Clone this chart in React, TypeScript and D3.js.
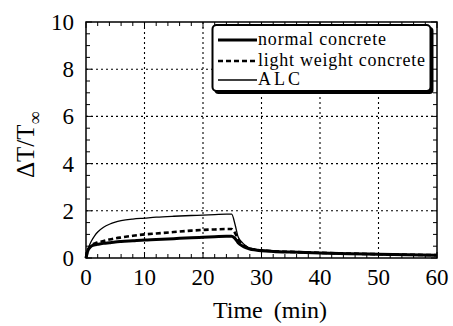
import React, { useEffect, useRef } from "react";
import * as d3 from "d3";

const times = [0, 0.3, 0.7, 1, 1.5, 2, 3, 4, 5, 6, 8, 10, 12, 15, 18, 20, 22, 24, 24.9, 25.5, 26, 26.8, 27.3, 28, 29, 30, 32, 35, 40, 45, 50, 55, 60];
const normalConcrete = [0, 0.3, 0.45, 0.52, 0.56, 0.58, 0.62, 0.65, 0.68, 0.7, 0.73, 0.76, 0.78, 0.82, 0.86, 0.88, 0.9, 0.92, 0.92, 0.82, 0.65, 0.5, 0.44, 0.38, 0.34, 0.31, 0.28, 0.25, 0.21, 0.18, 0.16, 0.14, 0.12];
const lightWeightConcrete = [0, 0.32, 0.48, 0.56, 0.62, 0.66, 0.72, 0.78, 0.83, 0.87, 0.94, 1.0, 1.04, 1.1, 1.16, 1.19, 1.21, 1.23, 1.23, 1.05, 0.8, 0.57, 0.48, 0.4, 0.35, 0.32, 0.29, 0.26, 0.22, 0.19, 0.16, 0.14, 0.12];
const alc = [0, 0.35, 0.6, 0.75, 0.95, 1.1, 1.3, 1.43, 1.52, 1.58, 1.65, 1.69, 1.73, 1.77, 1.8, 1.82, 1.84, 1.86, 1.86, 1.4, 0.9, 0.63, 0.52, 0.42, 0.37, 0.34, 0.3, 0.25, 0.2, 0.17, 0.14, 0.12, 0.1];

const xTicks = [0, 10, 20, 30, 40, 50, 60];
const yTicks = [0, 2, 4, 6, 8, 10];
const xMinor = d3.range(0, 61, 2);
const yMinor = d3.range(0, 10.01, 0.5);

const seriesNames = ["normal concrete", "light weight concrete", "ALC"];

const FF = "Liberation Serif";

export default function App() {
  const ref = useRef<SVGSVGElement | null>(null);

  useEffect(() => {
    const svg = d3.select(ref.current);
    svg.selectAll("*").remove();
    const L = 86, R = 437, T = 22, B = 258;
    const x = d3.scaleLinear().domain([0, 60]).range([L, R]);
    const y = d3.scaleLinear().domain([0, 10]).range([B, T]);

    svg.append("rect").attr("width", 453).attr("height", 326).attr("fill", "#fff");

    const g = svg.append("g");
    g.selectAll(".gx").data(xTicks.slice(1, -1)).enter().append("line")
      .attr("x1", (d) => x(d)).attr("x2", (d) => x(d)).attr("y1", T).attr("y2", B)
      .attr("stroke", "#000").attr("stroke-width", 1.1).attr("stroke-dasharray", "2,3");
    g.selectAll(".gy").data(yTicks.slice(1, -1)).enter().append("line")
      .attr("x1", L).attr("x2", R).attr("y1", (d) => y(d)).attr("y2", (d) => y(d))
      .attr("stroke", "#000").attr("stroke-width", 1.1).attr("stroke-dasharray", "2,3");

    xMinor.forEach((t) => {
      const len = t % 10 === 0 ? 6 : 4;
      g.append("line").attr("x1", x(t)).attr("x2", x(t)).attr("y1", B).attr("y2", B - len).attr("stroke", "#000");
      g.append("line").attr("x1", x(t)).attr("x2", x(t)).attr("y1", T).attr("y2", T + len).attr("stroke", "#000");
    });
    yMinor.forEach((t) => {
      const len = t % 2 === 0 ? 6 : 4;
      g.append("line").attr("x1", L).attr("x2", L + len).attr("y1", y(t)).attr("y2", y(t)).attr("stroke", "#000");
      g.append("line").attr("x1", R).attr("x2", R - len).attr("y1", y(t)).attr("y2", y(t)).attr("stroke", "#000");
    });

    const series = [
      { name: seriesNames[0], vals: normalConcrete, w: 3, dash: null as string | null },
      { name: seriesNames[1], vals: lightWeightConcrete, w: 2.6, dash: "5,3" },
      { name: seriesNames[2], vals: alc, w: 1.3, dash: null },
    ];
    const line = d3.line<number>().x((_, i) => x(times[i])).y((v) => y(v)).curve(d3.curveMonotoneX);
    series.forEach((s) => {
      g.append("path").attr("d", line(s.vals) || "").attr("fill", "none").attr("stroke", "#000")
        .attr("stroke-width", s.w).attr("stroke-dasharray", s.dash).attr("stroke-linejoin", "round");
    });

    g.append("rect").attr("x", L).attr("y", T).attr("width", R - L).attr("height", B - T)
      .attr("fill", "none").attr("stroke", "#000").attr("stroke-width", 1.5);

    const txt = svg.append("g").attr("font-family", FF).style("font-family", FF);
    txt.selectAll(".xl").data(xTicks).enter().append("text")
      .attr("x", (d) => x(d)).attr("y", 285).attr("font-size", 23).attr("text-anchor", "middle")
      .attr("font-family", FF).text((d) => String(d));
    txt.selectAll(".yl").data(yTicks).enter().append("text")
      .attr("x", 74).attr("y", (d) => y(d) + 8).attr("font-size", 23).attr("text-anchor", "end")
      .attr("font-family", FF).text((d) => String(d));
    txt.append("text").attr("x", 270).attr("y", 318).attr("font-size", 24).attr("text-anchor", "middle")
      .attr("word-spacing", 5).attr("font-family", FF).text("Time (min)");
    const yl = txt.append("text").attr("transform", "translate(34,178) rotate(-90)").attr("font-size", 25).attr("font-family", FF);
    yl.append("tspan").text("ΔT/T");
    yl.append("tspan").attr("font-size", 18).attr("dy", 7).text("∞");

    const lg = svg.append("g");
    lg.append("rect").attr("x", 214.5).attr("y", 27).attr("width", 219).attr("height", 67).attr("rx", 4).attr("fill", "#000");
    lg.append("rect").attr("x", 212.5).attr("y", 25).attr("width", 218).attr("height", 66).attr("rx", 4)
      .attr("fill", "#fff").attr("stroke", "#000").attr("stroke-width", 2);
    const rows = [40, 61, 80];
    const lens = [128, 167, 42];
    series.forEach((s, i) => {
      lg.append("line").attr("x1", 218).attr("x2", 257).attr("y1", rows[i]).attr("y2", rows[i])
        .attr("stroke", "#000").attr("stroke-width", s.w).attr("stroke-dasharray", s.dash);
      lg.append("text").attr("x", 258).attr("y", rows[i] + 5).attr("font-size", 18).attr("font-family", FF)
        .attr("textLength", lens[i]).attr("lengthAdjust", "spacing").text(s.name);
    });
  }, []);

  return <svg ref={ref} width={453} height={326} style={{ position: "absolute", left: 0, top: 0 }} />;
}
